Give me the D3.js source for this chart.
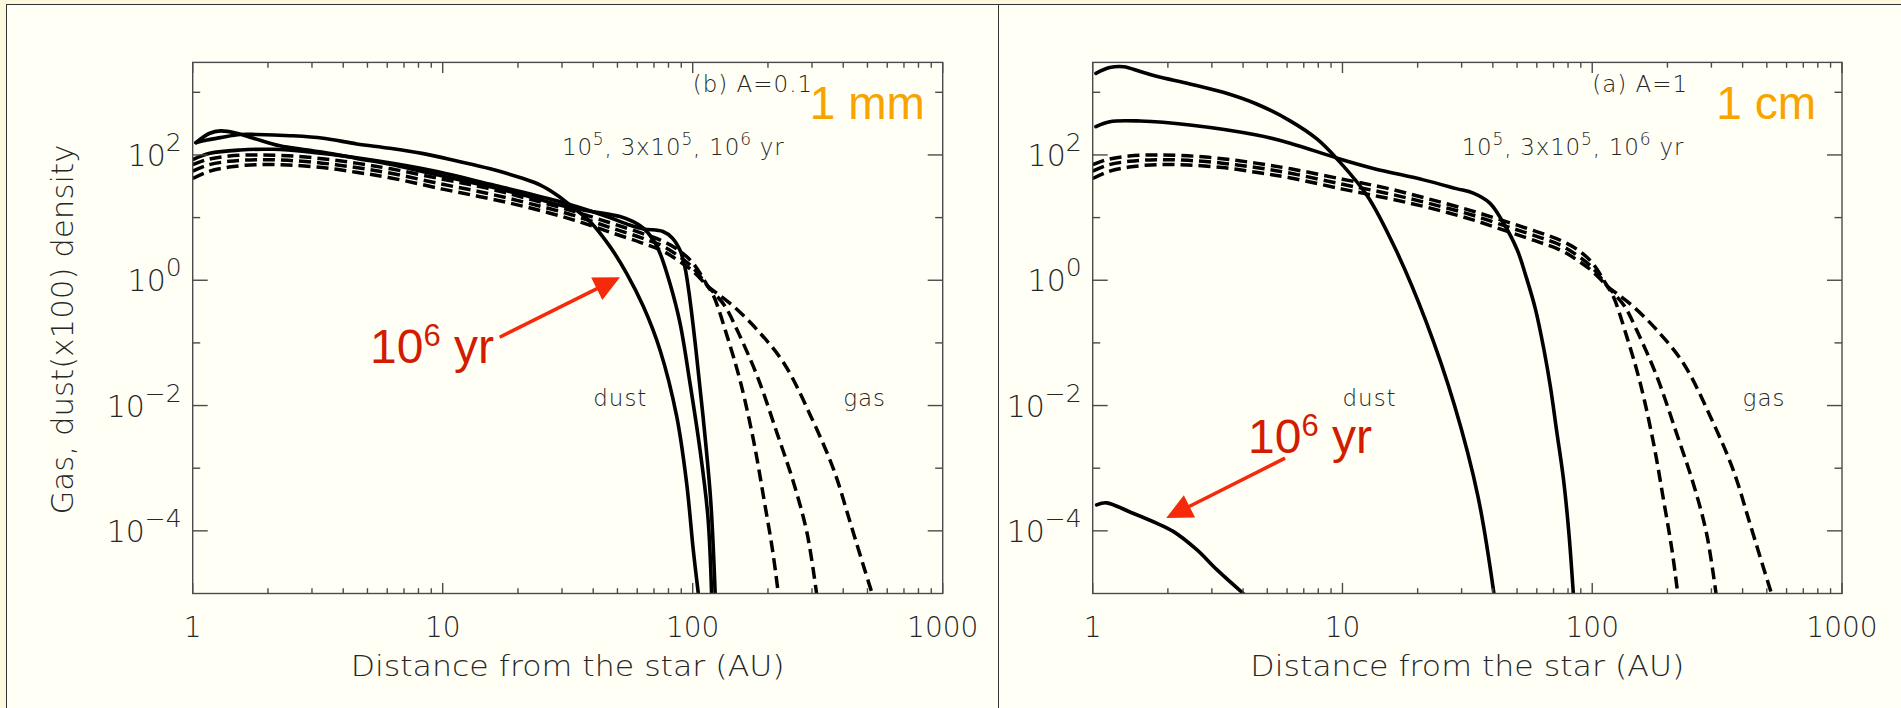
<!DOCTYPE html>
<html><head><meta charset="utf-8">
<script src="https://cdn.jsdelivr.net/npm/d3@7"></script>
<style>
body{margin:0;background:#fdf9df;}
svg{display:block;}
</style>
</head><body>
<svg id="chart" width="1901" height="708"></svg>
<script>
// ---------- tick definitions ----------
const xMajorTicks = [1, 10, 100, 1000];
const xMajorLabels = ["1", "10", "100", "1000"];
const xMinorTicks = [2,3,4,5,6,7,8,9,20,30,40,50,60,70,80,90,200,300,400,500,600,700,800,900];
const yMajorTicks = [1e-4, 1e-2, 1, 1e2];
const yMajorExps = ["\u22124", "\u22122", "0", "2"];
const yMinorTicks = [1e-3, 1e-1, 10, 1e3];

// ---------- gas (dashed), same in both panels ----------
const gasX_1e5 = [1.0,1.15,1.4,1.8,2.4,3.3,4.5,6.2,10,15,22,33,47,62,75,87,100,115,121.5,137.5,155.6,176,193,208.5,220];
const gasY_1e5 = [70,85,96,100,97,87,74,60,41,29.5,20,12.8,8.2,5.7,4.3,3.1,1.9,0.8,0.55,0.126,0.023,0.0025,3.1e-4,5e-5,1e-5];
const gasX_3e5 = [1.0,1.15,1.4,1.8,2.4,3.3,4.5,6.2,10,15,22,33,47,62,75,87,100,115,122,135,150.6,181.5,217.6,253.8,287,313];
const gasY_3e5 = [55,69,79,84,82,74,63,51,34,24.5,17,11,6.9,4.8,3.6,2.5,1.6,0.8,0.62,0.38,0.16,0.029,0.0036,5.7e-4,9e-5,1e-5];
const gasX_1e6 = [1.0,1.15,1.4,1.8,2.4,3.3,4.5,6.2,10,15,22,33,47,62,75,87,100,115,125,146,181.5,232,297,367,428,483,522];
const gasY_1e6 = [42,54,64,70,69,63,53,43,28.5,20.5,14.5,9.3,5.8,4.0,3.0,2.1,1.4,0.8,0.62,0.38,0.16,0.047,0.0067,9.3e-4,1.3e-4,2.7e-5,1e-5];

// ---------- dust (solid), panel (b) A=0.1, 1 mm ----------
const dustB_X_1e5 = [1.0,1.17,1.55,2.1,2.86,4.53,8.37,15.5,28.6,45,55,63.5,76,83,89,93,97.5,103,110,118,123];
const dustB_Y_1e5 = [84,106,120,123,113,90,60,34,18.5,10.5,7.8,6.6,6.0,4.7,3.0,1.65,0.49,0.078,0.0067,3.1e-4,1e-5];
const dustB_X_3e5 = [1.03,1.17,1.29,1.5,1.75,2.23,2.45,3.33,4.53,6.15,8.37,11.4,15.5,21,28.6,33.3,40,51.2,57.8,63.5,69.6,74,81,88.9,97.5,106.9,115,119];
const dustB_Y_3e5 = [157,222,242,222,185,140,131,110,88,71,54,41,31,23,16.3,14.1,12.4,10.4,8.6,6.8,4.4,2.7,0.9,0.21,0.023,0.002,1.7e-4,1e-5];
const dustB_X_1e6 = [1.03,1.14,1.29,1.55,1.8,2.45,3.33,4.53,6.15,8.37,11.4,15.5,21,24.6,28.6,33.3,38.9,46.7,54.4,63.5,74,86.3,94.6,100.5,105.3];
const dustB_Y_1e6 = [157,173,189,212,212,203,185,150,128,105,80,60,42,33,23,14.4,8.6,3.44,1.29,0.38,0.077,0.0067,5.7e-4,5e-5,1e-5];

// ---------- dust (solid), panel (a) A=1, 1 cm ----------
const dustA_X_1e5 = [1.03,1.17,1.55,2.45,4.53,6.17,9.6,13.3,21.1,28.6,33.4,38.9,43.5,50,54.5,59.3,64,68,72,76.6,80.5,84];
const dustA_Y_1e5 = [283,340,348,301,208,154,88,61,40,29,24.5,17,9.0,3.1,1.1,0.34,0.08,0.02,0.004,7e-4,1e-4,1e-5];
const dustA_X_3e5 = [1.03,1.17,1.33,1.55,1.8,2.45,3.33,4.53,6.17,7.9,9.6,12.6,16.4,21.6,28.1,34.9,40.4];
const dustA_Y_3e5 = [2000,2480,2560,2150,1800,1360,1000,650,350,180,83,22,3.0,0.22,0.01,3.5e-4,1e-5];
const dustA_X_1e6 = [1.037,1.137,1.41,1.8,2.1,2.61,3.14,4.01];
const dustA_Y_1e6 = [2.6e-4,2.8e-4,2.0e-4,1.33e-4,9.8e-5,5e-5,2.4e-5,1e-5];

// ---------- annotation texts ----------
const panelTags = ["(b) A=0.1", "(a) A=1"];
const sizeTags = ["1 mm", "1 cm"];
const timeTag = [["10",""],["5","sup"],[", 3x10",""],["5","sup"],[", 10",""],["6","sup"],[" yr",""]];
const redTag = [["10",""],["6","sup"],[" yr",""]];
const xTitle = "Distance from the star (AU)";
const yTitle = "Gas, dust(x100) density";

const zip = (xs, ys) => xs.map((x, i) => [x, ys[i]]);

const panels = [
  { x0: 192.7, x1: 942.7, tag: panelTags[0], size: sizeTags[0],
    dust: [zip(dustB_X_1e5, dustB_Y_1e5), zip(dustB_X_3e5, dustB_Y_3e5), zip(dustB_X_1e6, dustB_Y_1e6)],
    dustLbl: [40, 0.01], gasLbl: [400, 0.01], sizePos: [294, 372],
    red: { text: [5.12, 0.047], tail: [16.9, 0.123], tip: [51.2, 1.12] } },
  { x0: 1092.7, x1: 1842, tag: panelTags[1], size: sizeTags[1],
    dust: [zip(dustA_X_1e5, dustA_Y_1e5), zip(dustA_X_3e5, dustA_Y_3e5), zip(dustA_X_1e6, dustA_Y_1e6)],
    dustLbl: [10, 0.01], gasLbl: [400, 0.01], sizePos: [314, 372],
    red: { text: [4.19, 1.78e-3], tail: [5.89, 1.45e-3], tip: [1.97, 1.6e-4] } }
];
const gas = [zip(gasX_1e5, gasY_1e5), zip(gasX_3e5, gasY_3e5), zip(gasX_1e6, gasY_1e6)];

const svg = d3.select("#chart");
const Y0 = 62.4, Y1 = 593.5;
const hershey = "'DejaVu Sans', sans-serif";
const txtCol = "#262626";
const axCol = "#4a4a4a";

// frame
svg.append("rect").attr("x", 0).attr("y", 0).attr("width", 1901).attr("height", 708).attr("fill", "#fdf9df");
svg.append("rect").attr("x", 6.5).attr("y", 4.5).attr("width", 1910).attr("height", 720)
  .attr("fill", "#fffff6").attr("stroke", "#333").attr("stroke-width", 1);
svg.append("line").attr("x1", 998.5).attr("x2", 998.5).attr("y1", 4.5).attr("y2", 708)
  .attr("stroke", "#333").attr("stroke-width", 1);

function supText(sel, parts, baseSize, supSize, rise) {
  let shifted = false;
  parts.forEach(([t, kind]) => {
    const ts = sel.append("tspan").text(t);
    if (kind === "sup") {
      ts.attr("font-size", supSize).attr("dy", -rise); shifted = true;
    } else {
      ts.attr("font-size", baseSize);
      if (shifted) { ts.attr("dy", rise); shifted = false; }
    }
  });
}

panels.forEach((p, pi) => {
  const x = d3.scaleLog().domain([1, 1000]).range([p.x0, p.x1]);
  const y = d3.scaleLog().domain([1e-5, 3000]).range([Y1, Y0]);
  const g = svg.append("g");
  const clipId = "clip" + pi;
  svg.append("clipPath").attr("id", clipId).append("rect")
    .attr("x", p.x0).attr("y", Y0).attr("width", p.x1 - p.x0).attr("height", Y1 - Y0);

  const line = d3.line().x(d => x(d[0])).y(d => y(d[1])).curve(d3.curveCatmullRom.alpha(0.5));
  const curves = g.append("g").attr("clip-path", `url(#${clipId})`);
  curves.selectAll("path.gas").data(gas).join("path").attr("class", "gas")
    .attr("d", line).attr("fill", "none").attr("stroke", "#000")
    .attr("stroke-width", 3.5).attr("stroke-dasharray", "12,6");
  curves.selectAll("path.dust").data(p.dust).join("path").attr("class", "dust")
    .attr("d", line).attr("fill", "none").attr("stroke", "#000")
    .attr("stroke-width", 3.6).attr("stroke-linejoin", "round").attr("stroke-linecap", "round");

  // box
  g.append("rect").attr("x", p.x0).attr("y", Y0).attr("width", p.x1 - p.x0).attr("height", Y1 - Y0)
    .attr("fill", "none").attr("stroke", axCol).attr("stroke-width", 1.4);
  const tk = g.append("g").attr("stroke", axCol).attr("stroke-width", 1.4);
  const xt = xMajorTicks.map(v => [v, 10.6]).concat(xMinorTicks.map(v => [v, 5.3]));
  tk.selectAll("line.xb").data(xt).join("line").attr("class", "xb")
    .attr("x1", d => x(d[0])).attr("x2", d => x(d[0])).attr("y1", Y1).attr("y2", d => Y1 - d[1]);
  tk.selectAll("line.xt").data(xt).join("line").attr("class", "xt")
    .attr("x1", d => x(d[0])).attr("x2", d => x(d[0])).attr("y1", Y0).attr("y2", d => Y0 + d[1]);
  const yt = yMajorTicks.map(v => [v, 15]).concat(yMinorTicks.map(v => [v, 7.5]));
  tk.selectAll("line.yl").data(yt).join("line").attr("class", "yl")
    .attr("y1", d => y(d[0])).attr("y2", d => y(d[0])).attr("x1", p.x0).attr("x2", d => p.x0 + d[1]);
  tk.selectAll("line.yr").data(yt).join("line").attr("class", "yr")
    .attr("y1", d => y(d[0])).attr("y2", d => y(d[0])).attr("x1", p.x1).attr("x2", d => p.x1 - d[1]);

  // tick labels
  g.selectAll("text.xl").data(xMajorTicks).join("text").attr("class", "xl")
    .attr("x", d => x(d)).attr("y", 636.5).attr("text-anchor", "middle")
    .attr("font-family", hershey).attr("font-weight", 200).attr("font-size", 28).attr("fill", txtCol)
    .text((d, i) => xMajorLabels[i]);
  yMajorTicks.forEach((v, i) => {
    const t = g.append("text").attr("x", p.x0 - 11).attr("y", y(v) + 11).attr("text-anchor", "end")
      .attr("font-family", hershey).attr("font-weight", 200).attr("fill", txtCol);
    supText(t, [["10", ""], [yMajorExps[i], "sup"]], 30, 25, 15);
  });

  // axis titles
  g.append("text").attr("x", (p.x0 + p.x1) / 2).attr("y", 676).attr("text-anchor", "middle")
    .attr("font-family", hershey).attr("font-weight", 200).attr("font-size", 28).attr("fill", txtCol)
    .attr("textLength", 434).attr("lengthAdjust", "spacingAndGlyphs").text(xTitle);
  if (pi === 0) {
    g.append("text").attr("transform", "translate(73,329.6) rotate(-90)").attr("text-anchor", "middle")
      .attr("font-family", hershey).attr("font-weight", 200).attr("font-size", 30).attr("fill", txtCol)
      .attr("textLength", 370).attr("lengthAdjust", "spacingAndGlyphs").text(yTitle);
  }

  // annotations
  g.append("text").attr("x", x(100)).attr("y", y(1000)).attr("font-family", hershey).attr("font-weight", 200)
    .attr("font-size", 23).attr("fill", txtCol).attr("letter-spacing", 1).text(p.tag);
  const tt = g.append("text").attr("x", x(30)).attr("y", y(100)).attr("font-family", hershey)
    .attr("font-weight", 200).attr("fill", txtCol).attr("letter-spacing", 0.8);
  supText(tt, timeTag, 23, 17, 10);
  g.append("text").attr("x", x(p.dustLbl[0])).attr("y", y(p.dustLbl[1])).attr("font-family", hershey)
    .attr("font-weight", 200).attr("font-size", 23).attr("fill", txtCol).attr("letter-spacing", 1).text("dust");
  g.append("text").attr("x", x(p.gasLbl[0])).attr("y", y(p.gasLbl[1])).attr("font-family", hershey)
    .attr("font-weight", 200).attr("font-size", 23).attr("fill", txtCol).attr("letter-spacing", 1).text("gas");
  g.append("text").attr("x", x(p.sizePos[0])).attr("y", y(p.sizePos[1]))
    .attr("font-family", "'Liberation Sans', Arial, sans-serif").attr("font-size", 46)
    .attr("fill", "#f8a300").text(p.size);

  // red arrow + label
  const red = "#f42a0a";
  const tx = x(p.red.tail[0]), ty = y(p.red.tail[1]);
  const hx = x(p.red.tip[0]), hy = y(p.red.tip[1]);
  const L = Math.hypot(hx - tx, hy - ty), ux = (hx - tx) / L, uy = (hy - ty) / L;
  const hl = 26, hw = 12.5;
  const bx = hx - ux * hl, by = hy - uy * hl;
  g.append("line").attr("x1", tx).attr("y1", ty).attr("x2", bx + ux * 2).attr("y2", by + uy * 2)
    .attr("stroke", red).attr("stroke-width", 3.6);
  g.append("path").attr("d", `M${hx},${hy}L${bx - uy * hw},${by + ux * hw}L${bx + uy * hw},${by - ux * hw}Z`)
    .attr("fill", red);
  const rt = g.append("text").attr("x", x(p.red.text[0])).attr("y", y(p.red.text[1]))
    .attr("font-family", "'Liberation Sans', Arial, sans-serif").attr("fill", "#d11c00");
  supText(rt, redTag, 48, 31, 17);
});
</script>
</body></html>
